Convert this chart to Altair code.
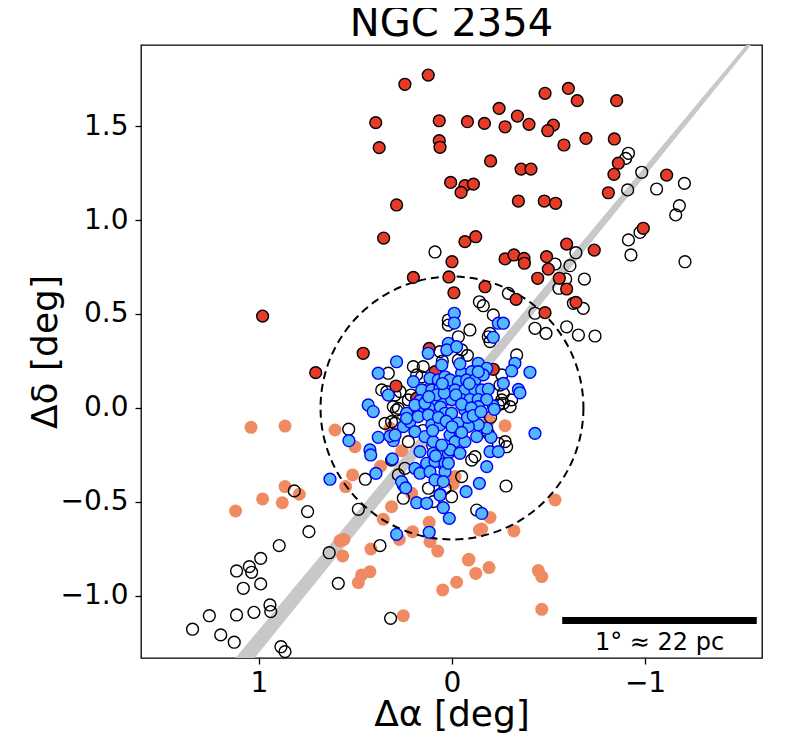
import altair as alt
import pandas as pd

# ---------------- data ----------------
red_x = [0.123, 0.244, 0.395, 0.066, -0.080, 0.377, 0.066, 0.062, 0.007, -0.067, -0.047, -0.111,
         0.287, 0.354, -0.067, -0.123, 0.000, 0.200, 0.016, -0.010, 0.981, -0.482, -0.603, -0.649,
         -0.853, -0.244, -0.339, -0.399, -0.168, -0.275, -0.525, -0.496, -0.694, -0.841, -0.580,
         -0.200, -0.358, -0.409, -0.344, -0.478, -0.537, -0.862, -0.839, -0.810, -1.112, -0.991,
         -0.594, -0.737, -0.275, -0.321, -0.373, -0.375, -0.490, -0.499, -0.444, -0.556, -0.594,
         -0.171, -0.332, -0.642, -0.482, 0.460, 0.706, 0.290, 0.118, -0.214, 0.088, 0.183]
red_y = [1.771, 1.722, 1.518, 1.528, 1.523, 1.385, 1.422, 1.387, 1.200, 1.183, 1.147, 1.191,
         1.080, 0.904, 0.885, 0.911, 0.778, 0.695, 0.697, 0.613, 0.489, 1.674, 1.700, 1.635,
         1.635, 1.594, 1.553, 1.509, 1.514, 1.496, 1.505, 1.475, 1.434, 1.431, 1.399,
         1.314, 1.271, 1.271, 1.101, 1.101, 1.089, 1.302, 1.243, 1.145, 1.239, 0.956,
         0.872, 0.840, 0.793, 0.814, 0.796, 0.770, 0.805, 0.739, 0.690, 0.690, 0.633,
         0.645, 0.578, 0.562, 0.507, 0.291, 0.188, 0.117, 0.317, 0.206, 0.193, 0.052]

open_x = [0.088,
          -0.914, -0.900, -0.983, -0.910, -1.060, -1.204, -1.178, -1.159, -0.974, -0.914, -0.927,
          -1.207, -0.642, -0.611, -0.534, -0.686, -0.589, -0.554, -0.680, -0.629, -0.430, -0.292,
          -0.142, -0.162, -0.214, -0.594, -0.655, -0.741, -0.430, -0.487, -0.093, 0.019, -0.033,
          -0.197,
          0.535, 0.817, 0.748, 0.741, 0.895, 0.991, 1.050, 1.116, 1.038, 0.991, 1.081, 1.257,
          1.116, 1.026, 0.943, 0.939, 1.344, 1.198, 1.128, 0.886, 0.865, 0.636, 0.589, 0.318,
          0.373, 0.485, 0.449, 0.252, 0.313, 0.244, 0.338, 0.330, 0.149, 0.002, 0.287, 0.295,
          0.212,
          -0.280, -0.283, -0.275, -0.128, -0.335,
          0.019, -0.188, -0.197, -0.050, -0.033, -0.258, -0.249, -0.266, -0.258, -0.309, -0.301,
          0.364, 0.295, 0.269, 0.062, 0.157, 0.183, 0.304, 0.278, 0.226,
          0.347, 0.313, 0.226, 0.278, 0.122, 0.036, 0.097,
          -0.119, -0.102, -0.050, -0.171, -0.188, -0.240, -0.240, -0.266,
          0.05, -0.08, 0.12, -0.15, 0.10, -0.05, 0.15, -0.12, 0.20, -0.20]
open_y = [0.830,
          1.355, 1.328, 1.254, 1.160, 1.165, 1.195, 1.076, 1.027, 0.934, 0.894, 0.814,
          0.778, 0.826, 0.757, 0.766, 0.686, 0.686, 0.637, 0.530, 0.557, 0.504, 0.610,
          0.565, 0.544, 0.495, 0.432, 0.388, 0.383, 0.424, 0.397, 0.415, 0.441, 0.379,
          0.397,
          -0.113, -0.441, -0.551, -0.658, -0.732, -0.800, -0.844, -0.867, -0.874, -0.936, -0.959, -1.105,
          -1.101, -1.087, -1.048, -1.083, -1.177, -1.207, -1.246, -1.270, -1.296, -0.770, -0.933, -1.119,
          -0.732, -0.539, -0.379, -0.480, -0.277, -0.321, 0.087, 0.185, 0.220, -0.472, -0.011, -0.081,
          0.069,
          -0.415, -0.206, -0.179, -0.543, 0.282,
          0.468, 0.379, 0.353, 0.309, 0.255, 0.176, 0.122, 0.078, 0.043, 0.043, 0.007,
          0.096, 0.069, 0.087, 0.300, 0.166, 0.176, 0.007, -0.002, 0.043,
          -0.082, -0.073, -0.179, -0.356, -0.427, -0.427, -0.498,
          -0.259, -0.277, -0.365, -0.117, -0.135, -0.189, 0.016, 0.025,
          0.25, 0.28, 0.10, 0.05, -0.20, -0.18, -0.12, 0.20, 0.22, -0.05]

orange_x = [1.041, 0.865, 0.606, 0.503, 0.865, 0.791, 0.981, 0.879, 1.121, 0.515, 0.551, 0.313,
            0.356, 0.560, 0.580, 0.420, 0.566, 0.425, 0.468, 0.485, 0.252, 0.204, 0.118, 0.114,
            0.074, 0.273, 0.048, -0.024, -0.085, -0.016, 0.209, 0.321, 0.261, 0.370,
            -0.534, -0.321, -0.197, -0.154, -0.142, -0.007, -0.275, -0.193, -0.088, -0.123,
            -0.192, -0.447, -0.465, -0.465]
orange_y = [-0.103, -0.096, -0.117, -0.206, -0.418, -0.459, -0.484, -0.504, -0.548, -0.356, -0.418, -0.525,
            -0.592, -0.699, -0.706, -0.750, -0.787, -0.871, -0.888, -0.929, -1.105, -0.658, -0.608, -0.711,
            -0.761, -0.699, -0.968, -0.927, -0.809, -0.365, -0.454, -0.108, -0.227, -0.310,
            -0.489, -0.654, -0.582, -0.644, -0.649, -0.404, -0.094, -0.064, -0.805, -0.880,
            -0.849, -0.865, -0.897, -1.071]

blue_x = [-0.012, -0.012, 0.019, 0.027, 0.123, 0.287, 0.382, 0.053, 0.330, 0.434, 0.200, 0.157,
          0.114, 0.071, 0.036, 0.105, 0.062, 0.019, 0.166, 0.131, 0.088, 0.045, 0.180, 0.150,
          0.120, 0.060,
          -0.024, -0.240, -0.266, -0.214, -0.136, -0.180, -0.326, -0.309, -0.404, -0.266, -0.344,
          -0.352, -0.214,
          -0.050, -0.102, 0.010, -0.033, -0.076, -0.119, -0.162,
          -0.016, -0.067, -0.119, -0.154, -0.188,
          0.002, -0.050, -0.093, -0.136, -0.180,
          0.408, 0.534, 0.425, 0.421, 0.382, 0.309, 0.394, 0.632, 0.252, 0.183, 0.131, 0.045,
          0.014, 0.287, 0.118, 0.062, 0.114, 0.041,
          0.304, 0.321, 0.295, 0.261, 0.240,
          0.235, 0.192, 0.140, 0.252, 0.218, 0.175, 0.122, 0.105, 0.192, 0.140, 0.097, 0.166,
          0.097, 0.131, 0.088, 0.192, 0.166, 0.114, 0.088, 0.036, 0.062, 0.036, 0.019, 0.045,
          0.010, 0.062, 0.036,
          -0.430, -0.219, -0.202, -0.197, -0.240, -0.180, -0.142, -0.073, -0.154, -0.136, -0.041,
          -0.016, -0.067, -0.128, -0.180, -0.136, -0.085, -0.041, 0.010, -0.041, 0.019,
          -0.136, -0.067, 0.002,
          0.08, 0.04, -0.02, -0.05, -0.10, 0.07, 0.03, -0.03, -0.08, -0.11, 0.05, -0.09, 0.00,
          -0.05, 0.10, -0.15, 0.12,
          0.235, 0.085, 0.053]
blue_y = [0.504, 0.452, 0.344, 0.309, 0.291, 0.246, 0.185, 0.229, 0.069, 0.016, 0.140, 0.096,
          0.158, 0.149, 0.166, 0.096, 0.105, 0.113, 0.039, 0.039, 0.039, 0.039, 0.005, 0.005,
          0.000, 0.005,
          0.326, 0.451, 0.451, 0.376, 0.238, 0.211, 0.238, 0.197, 0.190, 0.131, 0.099,
          0.081, 0.011,
          0.185, 0.193, 0.149, 0.140, 0.149, 0.149, 0.176,
          0.096, 0.096, 0.096, 0.096, 0.101,
          0.045, 0.045, 0.045, 0.045, 0.045,
          -0.019, -0.174, -0.223, -0.250, -0.156, -0.271, -0.348, -0.379, -0.410, -0.504, -0.507, -0.530,
          -0.587, -0.672, -0.661, -0.459, -0.303, -0.303,
          -0.174, -0.150, -0.144, -0.392, -0.425,
          -0.028, 0.016, 0.025, -0.099, -0.073, -0.046, -0.037, -0.090, -0.126, -0.152, -0.179, -0.232,
          -0.241, -0.294, -0.285, -0.321, -0.347, -0.339, -0.383, -0.294, -0.463, -0.339, -0.241, -0.392,
          -0.144, -0.090, -0.028,
          -0.135, -0.007, -0.156, -0.232, -0.232, -0.312, -0.401, -0.445, -0.561, 0.193, 0.235,
          -0.179, -0.179, -0.152, -0.108, -0.089, -0.098, -0.126, -0.223, -0.241, -0.294,
          0.007, -0.011, -0.028,
          0.07, 0.08, 0.07, 0.02, 0.00, -0.05, -0.07, -0.08, -0.05, -0.04, 0.13, 0.13, -0.10,
          -0.13, -0.12, -0.02, 0.06,
          -0.055, -0.255, -0.197]

# grey trajectory (two end points; width grows towards lower left)
track_x = [-1.57, 1.10]
track_y = [1.9725, -1.365]
track_w = [3.5, 15.0]

# cluster radius (deg) and centre
circle_x = [0.0]
circle_y = [0.0]
circle_r = 0.69

# scale bar: 1 degree
bar_x1 = -0.571
bar_x2 = -1.579
bar_y = -1.131
bar_label = "1° ≈ 22 pc"
bar_label_y = -1.287

# ---------------- layout ----------------
W, H = 621, 613
XDOM = [-1.606, 1.611]
YDOM = [-1.33, 1.931]
px_per_deg = W / (XDOM[1] - XDOM[0])
py_per_deg = H / (YDOM[1] - YDOM[0])
r_px = circle_r * (px_per_deg + py_per_deg) / 2
circle_size = (2 * r_px) ** 2          # Vega symbol size: diameter = sqrt(size)

FONT = "DejaVu Sans"

X = alt.X("x:Q",
          scale=alt.Scale(domain=XDOM, reverse=True, nice=False, zero=False),
          axis=alt.Axis(title="Δα [deg]", values=[1, 0, -1], format="d",
                        titleX=W / 2, titleY=67, titleBaseline="alphabetic", titleAlign="center"))
Y = alt.Y("y:Q",
          scale=alt.Scale(domain=YDOM, nice=False, zero=False),
          axis=alt.Axis(title="Δδ [deg]", values=[-1.0, -0.5, 0.0, 0.5, 1.0, 1.5], format=".1f",
                        titleX=-85, titleY=H / 2, titleAngle=270, titleBaseline="alphabetic",
                        titleAlign="center"))

track_df = pd.DataFrame({"x": track_x, "y": track_y, "w": track_w})
open_df = pd.DataFrame({"x": open_x, "y": open_y})
orange_df = pd.DataFrame({"x": orange_x, "y": orange_y})
red_df = pd.DataFrame({"x": red_x, "y": red_y})
blue_df = pd.DataFrame({"x": blue_x, "y": blue_y})
circle_df = pd.DataFrame({"x": circle_x, "y": circle_y})
bar_df = pd.DataFrame({"x": [bar_x1], "x2": [bar_x2], "y": [bar_y]})
bar_text_df = pd.DataFrame({"x": [(bar_x1 + bar_x2) / 2], "y": [bar_label_y], "t": [bar_label]})

MS = 140   # marker symbol size (diameter ~11.8 px + edge)

track = alt.Chart(track_df).mark_trail(color="#c8c8c8", clip=True).encode(
    x=X, y=Y, size=alt.Size("w:Q", scale=None, legend=None))

opens = alt.Chart(open_df).mark_point(
    shape="circle", filled=False, stroke="black", strokeWidth=1.4, size=MS, opacity=1
).encode(x=X, y=Y)

oranges = alt.Chart(orange_df).mark_circle(
    color="#ef8a62", size=169, opacity=1
).encode(x=X, y=Y)

reds = alt.Chart(red_df).mark_point(
    shape="circle", filled=True, fill="#e63b28", stroke="black", strokeWidth=1.4, size=MS,
    opacity=1
).encode(x=X, y=Y)

blues = alt.Chart(blue_df).mark_point(
    shape="circle", filled=True, fill="#55b8fa", stroke="#0000ff", strokeWidth=1.4, size=MS,
    opacity=1
).encode(x=X, y=Y)

circle = alt.Chart(circle_df).mark_point(
    shape="circle", filled=False, stroke="black", strokeWidth=2, strokeDash=[8, 5],
    size=circle_size, opacity=1
).encode(x=X, y=Y)

bar = alt.Chart(bar_df).mark_rule(color="black", strokeWidth=7).encode(
    x=X, x2="x2:Q", y=Y)

bar_text = alt.Chart(bar_text_df).mark_text(
    font=FONT, fontSize=24, color="black", align="center", baseline="alphabetic"
).encode(x=X, y=Y, text="t:N")

chart = alt.layer(track, oranges, opens, circle, reds, blues, bar, bar_text).properties(
    width=W, height=H,
    title=alt.TitleParams("NGC 2354", font=FONT, fontSize=40, fontWeight="normal",
                          color="black", anchor="middle", offset=1),
    autosize=alt.AutoSizeParams(type="none"),
    padding={"left": 133, "top": 37, "right": 18, "bottom": 80},
).configure_view(
    stroke="black", strokeWidth=1.3
).configure_axis(
    domain=False, grid=False,
    labelFont=FONT, labelFontSize=28, labelColor="black",
    titleFont=FONT, titleFontSize=36, titleFontWeight="normal", titleColor="black",
    tickColor="black", tickWidth=1.3, tickSize=6,
).configure_axisX(labelPadding=5).configure_axisY(labelPadding=7)

chart.save("out.html", embed_options={"renderer": "svg", "actions": False})
